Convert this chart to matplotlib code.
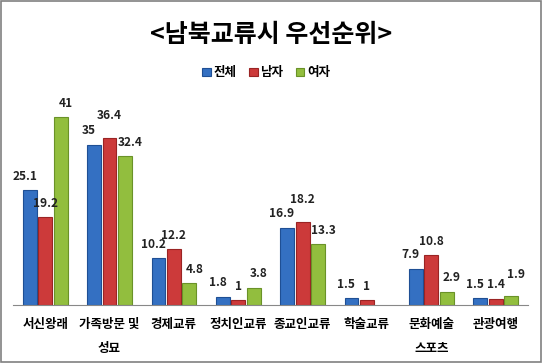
import numpy as np
import matplotlib
matplotlib.use("Agg")
import matplotlib.pyplot as plt
from matplotlib.patches import Rectangle

plt.rcParams['font.family'] = ['Noto Sans CJK KR', 'DejaVu Sans']

categories = ["서신왕래", "가족방문 및\n성묘", "경제교류", "정치인교류", "종교인교류",
              "학술교류", "문화예술\n스포츠", "관광여행"]
series_names = ["전체", "남자", "여자"]
total = [25.1, 35, 10.2, 1.8, 16.9, 1.5, 7.9, 1.5]
male = [19.2, 36.4, 12.2, 1, 18.2, 1, 10.8, 1.4]
female = [41, 32.4, 4.8, 3.8, 13.3, np.nan, 2.9, 1.9]

colors = ["#3470C2", "#CC3A3A", "#92BE3E"]
edges = ["#1F4F94", "#9A2424", "#6A9228"]

fig = plt.figure(figsize=(5.43, 3.64), dpi=100)
# outer border like the excel chart frame
fig.patches.append(Rectangle((0.002, 0.006), 0.994, 0.99, transform=fig.transFigure,
                             fill=False, edgecolor="#808080", linewidth=1.2))

ax = fig.add_axes([0.024, 0.162, 0.948, 0.567])
x = np.arange(len(categories))
w = 0.215
step = 0.24

all_vals = [np.array(v, dtype=float) for v in (total, male, female)]
for i, (v, name) in enumerate(zip(all_vals, series_names)):
    pos = x + (i - 1) * step
    ax.bar(pos, v, width=w, color=colors[i], edgecolor=edges[i], linewidth=0.8, label=name)
    for j, (px, pv) in enumerate(zip(pos, v)):
        if np.isnan(pv):
            continue
        off = 1.6
        # excel nudges a label up when it would collide with the previous one
        if i > 0 and 0 <= pv - all_vals[i - 1][j] < 1.5:
            off += 1.8
        ax.text(px + (i - 1) * 0.08, pv + off, "%g" % pv, ha="center", va="bottom",
                fontsize=8.6, fontweight="bold", color="#222222")

ax.set_xlim(-0.5, len(categories) - 0.5)
ax.set_ylim(0, 45)
ax.set_yticks([])
ax.set_xticks(x)
ax.set_xticklabels(categories, fontsize=9, fontweight="bold", linespacing=2.1)
ax.tick_params(axis="x", length=0, pad=9)
for s in ["top", "right", "left"]:
    ax.spines[s].set_visible(False)
ax.spines["bottom"].set_color("#888888")

fig.text(0.5, 0.905, "<남북교류시 우선순위>", ha="center", va="center",
         fontsize=18, fontweight="bold")
fig.legend(loc="center", bbox_to_anchor=(0.49, 0.80), ncol=3, frameon=False,
           handlelength=0.7, handleheight=0.7, handletextpad=0.2,
           columnspacing=1.0, prop={"weight": "bold", "size": 9})

fig.savefig("out.png", dpi=100)
